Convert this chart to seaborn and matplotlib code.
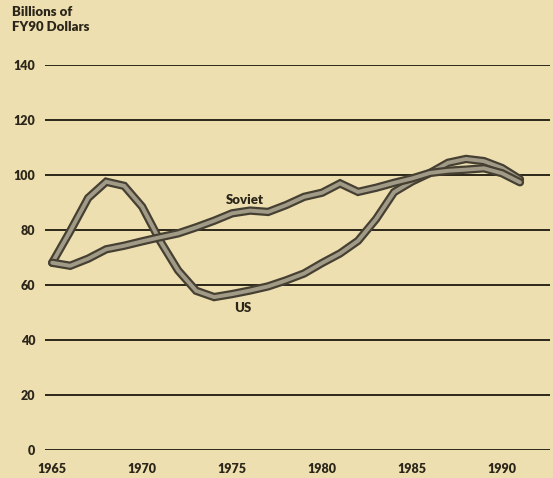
import matplotlib
matplotlib.use("Agg")
import matplotlib.pyplot as plt
import matplotlib.patheffects as pe
import pandas as pd
import seaborn as sns

# Defense outlays, billions of FY90 dollars
years = list(range(1965, 1992))
us = [68, 79.5, 91.6, 97.5, 96, 88.4, 75.9, 65.2, 57.8, 55.5, 56.6, 57.9, 59.4,
      61.6, 64.1, 67.9, 71.4, 76, 83.9, 93.7, 97.6, 100.7, 104.4, 105.8, 105,
      102.5, 98.4]
soviet = [68, 66.9, 69.5, 72.9, 74.2, 75.8, 77.3, 78.7, 80.9, 83.3, 86, 87, 86.5,
          89, 92, 93.5, 96.9, 93.8, 95.3, 97.1, 98.7, 100.7, 101.5, 101.9, 102.4,
          100.6, 97.3]
y_ticks = [0, 20, 40, 60, 80, 100, 120, 140]
x_ticks = [1965, 1970, 1975, 1980, 1985, 1990]

df = pd.DataFrame({"year": years * 2,
                   "value": us + soviet,
                   "country": ["US"] * len(years) + ["Soviet"] * len(years)})

paper = "#eedfb1"
ink = "#2b2619"

sns.set_theme(style="white")
plt.rcParams["font.family"] = ["Lato", "DejaVu Sans"]

fig = plt.figure(figsize=(5.53, 4.78), dpi=100, facecolor=paper)
ax = fig.add_axes([0.0814, 0.0596, 0.9132, 0.8044])
ax.set_facecolor(paper)

for y in y_ticks:
    ax.axhline(y, color=ink, lw=1.4, zorder=1)

sns.lineplot(data=df, x="year", y="value", hue="country",
             palette={"US": "#a09a87", "Soviet": "#a09a87"},
             linewidth=2.8, legend=False, ax=ax, zorder=3)
for line in ax.get_lines()[-2:]:
    line.set_path_effects([pe.Stroke(linewidth=6.0, foreground="#454032"),
                           pe.Normal()])
    line.set_solid_joinstyle("miter")

ax.set_xlim(1964.6, 1992.67)
ax.set_ylim(0, 140)
ax.set_xticks(x_ticks)
ax.set_yticks(y_ticks)
ax.set_xticklabels([str(t) for t in x_ticks], fontsize=9, fontweight="heavy", color=ink)
ax.set_yticklabels([str(t) for t in y_ticks], fontsize=9, fontweight="heavy", color=ink)
ax.tick_params(axis="x", length=2.5, width=1.2, color=ink, pad=7)
ax.tick_params(axis="y", length=0, pad=7)
ax.set_xlabel("")
ax.set_ylabel("")
for s in ax.spines.values():
    s.set_visible(False)

ax.text(1975.7, 91, "Soviet", fontsize=9.5, fontweight="heavy", color=ink,
        ha="center", va="center", zorder=4)
ax.text(1975.6, 51.6, "US", fontsize=9.5, fontweight="heavy", color=ink,
        ha="center", va="center", zorder=4)

fig.text(0.022, 0.988, "Billions of\nFY90 Dollars", fontsize=9.5, fontweight="heavy",
         color=ink, ha="left", va="top", linespacing=1.3)

fig.savefig("out.png", dpi=100, facecolor=paper)
